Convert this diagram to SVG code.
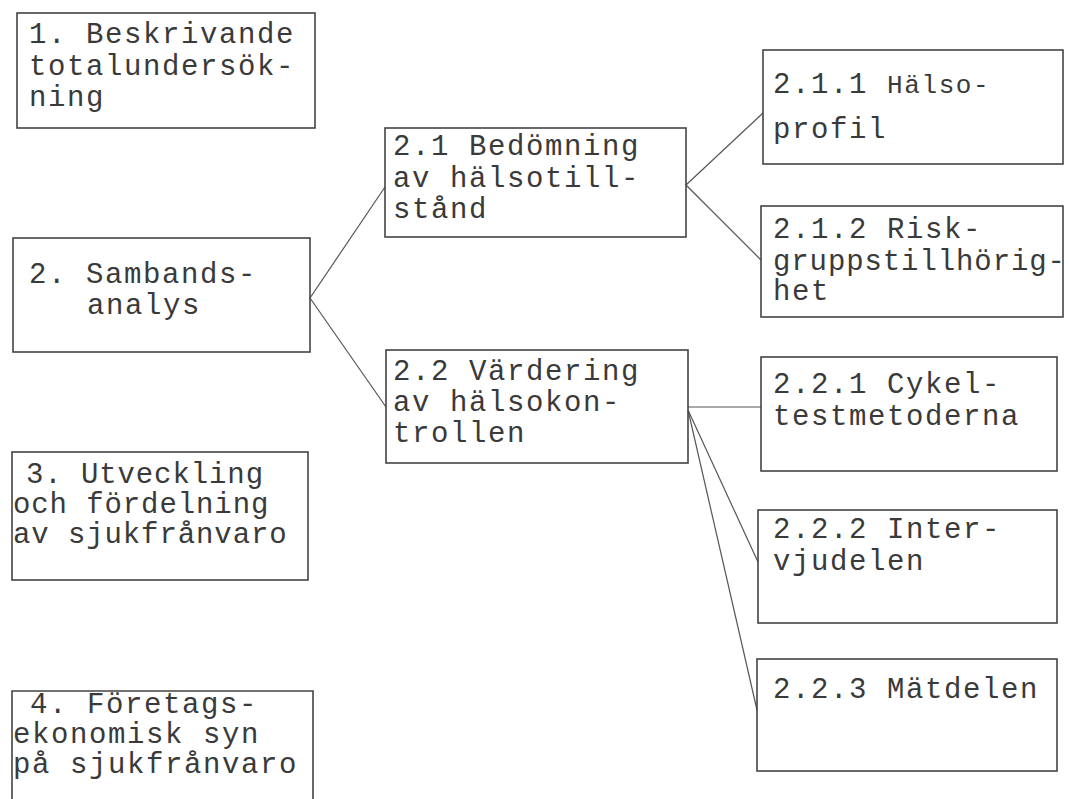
<svg xmlns="http://www.w3.org/2000/svg" width="1069" height="799" viewBox="0 0 1069 799">
<style>
.box{fill:none;stroke:#444;stroke-width:1.6}
.t{font-family:"Liberation Mono","DejaVu Sans Mono",monospace;font-size:29px;letter-spacing:1.6px;fill:#3a3a3a}
.c{fill:none;stroke:#555;stroke-width:1.2}
</style>
<rect width="1069" height="799" fill="#fff"/>
<g id="connectors">
<line class="c" x1="310" y1="298" x2="385" y2="187"/>
<line class="c" x1="310" y1="298" x2="386" y2="407"/>
<line class="c" x1="686" y1="185" x2="763" y2="113"/>
<line class="c" x1="686" y1="185" x2="761" y2="260"/>
<line class="c" x1="688" y1="407" x2="761" y2="407"/>
<line class="c" x1="688" y1="410" x2="758" y2="562"/>
<line class="c" x1="688" y1="410" x2="757" y2="710"/>
</g>
<g id="n1">
<rect class="box" x="17" y="13" width="298" height="115"/>
<text class="t"><tspan x="29" y="43">1. Beskrivande</tspan><tspan x="29" y="75">totalundersök-</tspan><tspan x="29" y="106">ning</tspan></text>
</g>
<g id="n2">
<rect class="box" x="13" y="238" width="297" height="114"/>
<text class="t"><tspan x="29" y="283">2. Sambands-</tspan><tspan x="87" y="314">analys</tspan></text>
</g>
<g id="n3">
<rect class="box" x="12" y="452" width="296" height="128"/>
<text class="t" style="letter-spacing:0.9px"><tspan x="26" y="483">3. Utveckling</tspan><tspan x="13" y="513">och fördelning</tspan><tspan x="13" y="543">av sjukfrånvaro</tspan></text>
</g>
<g id="n4">
<path class="box" d="M12 805 V691 H313 V805"/>
<text class="t"><tspan x="30" y="713">4. Företags-</tspan><tspan x="13" y="743">ekonomisk syn</tspan><tspan x="13" y="773">på sjukfrånvaro</tspan></text>
</g>
<g id="n21">
<rect class="box" x="385" y="128" width="301" height="109"/>
<text class="t"><tspan x="393" y="155">2.1 Bedömning</tspan><tspan x="393" y="187">av hälsotill-</tspan><tspan x="393" y="218">stånd</tspan></text>
</g>
<g id="n22">
<rect class="box" x="386" y="350" width="302" height="113"/>
<text class="t"><tspan x="393" y="380">2.2 Värdering</tspan><tspan x="393" y="411">av hälsokon-</tspan><tspan x="393" y="442">trollen</tspan></text>
</g>
<g id="n211">
<rect class="box" x="763" y="50" width="300" height="114"/>
<text class="t"><tspan x="773" y="93">2.1.1 </tspan><tspan style="font-size:26px;letter-spacing:1.6px">Hälso-</tspan><tspan x="773" y="138">profil</tspan></text>
</g>
<g id="n212">
<rect class="box" x="761" y="206" width="302" height="111"/>
<text class="t"><tspan x="773" y="238">2.1.2 Risk-</tspan><tspan x="773" y="270" style="letter-spacing:0.9px">gruppstillhörig-</tspan><tspan x="773" y="300">het</tspan></text>
</g>
<g id="n221">
<rect class="box" x="761" y="357" width="296" height="114"/>
<text class="t"><tspan x="773" y="393">2.2.1 Cykel-</tspan><tspan x="773" y="425">testmetoderna</tspan></text>
</g>
<g id="n222">
<rect class="box" x="758" y="510" width="299" height="113"/>
<text class="t"><tspan x="773" y="538">2.2.2 Inter-</tspan><tspan x="773" y="570">vjudelen</tspan></text>
</g>
<g id="n223">
<rect class="box" x="757" y="659" width="300" height="112"/>
<text class="t"><tspan x="773" y="698">2.2.3 Mätdelen</tspan></text>
</g>
</svg>
